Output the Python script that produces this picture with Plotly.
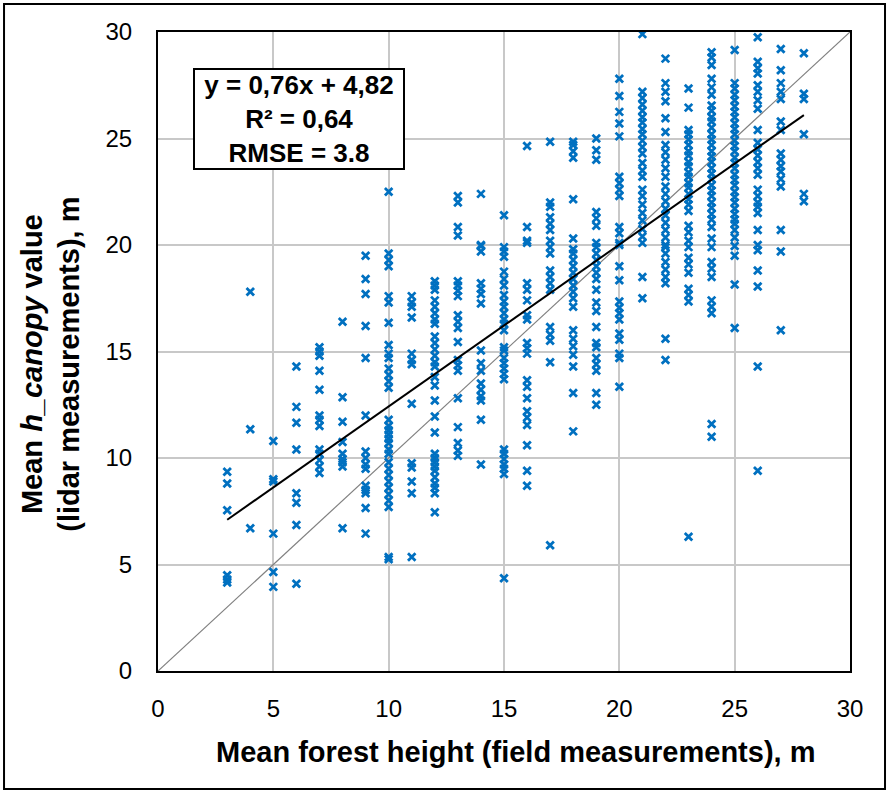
import plotly.graph_objects as go

# Field heights (x) and lidar mean h_canopy values (y) per field-height column
field_x = [3, 4, 5, 6, 7, 8, 9, 10, 11, 12, 13, 14, 15, 16, 17, 18, 19, 20, 21, 22, 23, 24, 25, 26, 27, 28]

h03 = [9.35, 8.8, 7.55, 4.5, 4.3, 4.15]
h04 = [17.8, 11.35, 6.7]
h05 = [10.8, 9.0, 8.9, 6.45, 4.65, 3.95]
h06 = [14.3, 12.4, 11.65, 10.4, 8.35, 7.9, 6.85, 4.1]
h07 = [15.2, 15.0, 14.8, 14.1, 13.2, 12.0, 11.8, 11.5, 10.4, 10.2, 9.9, 9.6, 9.3]
h08 = [16.4, 12.85, 11.7, 10.75, 10.2, 9.95, 9.8, 9.6, 6.7]
h09 = [19.5, 18.4, 17.7, 16.2, 14.7, 12.0, 10.3, 10.0, 9.7, 9.5, 8.7, 8.5, 8.35, 7.65, 6.45]
h10 = [22.5, 19.6, 19.3, 19.0, 17.6, 17.3, 16.35, 15.3, 14.9, 14.7, 14.2, 13.9, 13.6, 13.3,
       11.8, 11.5, 11.3, 11.1, 10.9, 10.7, 10.4, 10.2, 9.8, 9.5, 9.2, 8.9, 8.6, 8.3, 8.0, 7.7, 5.35, 5.25]
h11 = [17.6, 17.3, 17.1, 16.6, 14.9, 14.6, 14.4, 12.55, 9.75, 9.55, 8.9, 8.35, 5.35]
h12 = [18.3, 18.1, 17.9, 17.4, 17.1, 16.8, 16.5, 16.3, 15.7, 15.4, 15.1, 14.8, 14.5, 14.3, 13.8,
       13.4, 12.7, 11.95, 11.2, 10.2, 10.0, 9.8, 9.6, 9.4, 9.1, 8.8, 8.6, 8.35, 7.45]
h13 = [22.3, 22.0, 20.85, 20.45, 18.3, 18.1, 17.85, 17.6, 16.7, 16.4, 16.1, 15.45, 14.6, 14.35,
       14.1, 12.8, 11.45, 10.7, 10.35, 10.1]
h14 = [22.4, 20.0, 19.95, 19.7, 18.2, 17.95, 17.7, 17.25, 15.05, 14.45, 14.1, 13.5, 13.2, 12.9,
       12.7, 11.8, 9.7]
h15 = [21.4, 19.9, 19.7, 19.45, 18.75, 18.4, 18.1, 17.65, 17.35, 17.1, 16.8, 16.5, 16.3, 16.0,
       15.2, 15.05, 14.7, 14.45, 14.2, 13.95, 13.7, 10.4, 10.2, 9.95, 9.7, 9.5, 9.25, 4.35]
h16 = [24.65, 20.85, 20.2, 20.1, 18.2, 17.9, 17.4, 16.7, 16.5, 15.4, 15.15, 14.9, 13.65, 13.35,
       12.8, 12.2, 11.9, 11.55, 10.6, 9.4, 8.7]
h17 = [24.85, 22.0, 21.8, 21.3, 21.0, 20.7, 20.2, 19.9, 19.6, 18.8, 18.5, 18.2, 17.9, 16.15,
       15.8, 15.5, 14.5, 5.9]
h18 = [24.85, 24.7, 24.4, 24.1, 22.15, 20.3, 19.8, 19.6, 19.3, 19.0, 18.7, 18.4, 18.1, 17.8,
       17.5, 17.1, 16.0, 15.6, 15.25, 14.85, 14.3, 13.05, 11.25]
h19 = [25.0, 24.45, 24.0, 21.55, 21.25, 20.9, 20.1, 19.9, 19.6, 19.3, 19.0, 18.7, 18.4, 17.9,
       17.3, 16.9, 16.15, 15.4, 15.2, 14.7, 14.4, 14.1, 13.05, 12.5]
h20 = [27.8, 27.0, 26.25, 25.7, 25.1, 23.2, 22.9, 22.6, 22.3, 20.85, 20.55, 20.1, 20.0, 19.0,
       18.35, 17.35, 17.05, 16.8, 16.5, 15.85, 15.55, 14.9, 14.7, 13.35]
h21 = [29.9, 27.2, 26.9, 26.6, 26.3, 26.0, 25.75, 25.45, 25.2, 24.9, 24.6, 24.3, 23.85, 23.5,
       23.2, 22.6, 22.3, 21.9, 21.5, 21.15, 20.75, 20.4, 20.1, 18.5, 17.5]
h22 = [28.75, 27.6, 27.2, 26.75, 25.95, 25.3, 24.7, 24.35, 24.0, 23.6, 23.2, 22.75, 22.4, 22.05,
       21.7, 21.4, 21.05, 20.7, 20.35, 20.0, 19.9, 19.6, 19.2, 18.85, 18.5, 18.2, 15.6, 14.6]
h23 = [27.35, 26.45, 25.4, 25.2, 24.95, 24.7, 24.4, 24.2, 23.9, 23.7, 23.4, 23.2, 22.9, 22.7,
       22.4, 22.15, 21.9, 21.6, 20.9, 20.6, 20.2, 19.9, 19.4, 19.1, 18.7, 17.95, 17.65, 17.35, 6.3]
h24 = [29.05, 28.8, 28.45, 27.8, 27.4, 27.05, 26.55, 26.3, 26.0, 25.8, 25.5, 25.2, 24.95, 24.7,
       24.4, 24.15, 23.9, 23.6, 23.35, 23.1, 22.8, 22.55, 22.3, 22.0, 21.75, 21.45, 21.2, 20.85,
       20.3, 19.9, 19.2, 18.9, 18.5, 17.4, 17.1, 16.8, 11.6, 11.0]
h25 = [29.15, 27.6, 27.35, 27.05, 26.8, 26.5, 26.25, 26.0, 25.7, 25.45, 25.2, 24.9, 24.65, 24.4,
       24.1, 23.85, 23.6, 23.3, 23.05, 22.8, 22.5, 22.25, 22.0, 21.7, 21.45, 21.2, 21.0, 20.7,
       20.35, 19.95, 19.5, 18.15, 16.1]
h26 = [29.75, 28.6, 28.3, 28.05, 27.5, 27.2, 26.8, 26.4, 25.4, 24.8, 24.5, 24.2, 23.9, 23.6,
       23.3, 22.6, 22.3, 22.0, 21.8, 21.5, 20.7, 20.0, 19.75, 18.8, 18.05, 14.3, 9.4]
h27 = [29.2, 28.2, 27.6, 27.2, 26.85, 25.8, 25.4, 24.3, 24.0, 23.7, 23.45, 23.1, 22.75, 20.7,
       19.7, 16.0]
h28 = [29.0, 27.1, 26.85, 25.2, 22.4, 22.05]

lidar_columns = [h03, h04, h05, h06, h07, h08, h09, h10, h11, h12, h13, h14, h15, h16, h17,
                 h18, h19, h20, h21, h22, h23, h24, h25, h26, h27, h28]

slope, intercept = 0.76, 4.82
axis_ticks = [0, 5, 10, 15, 20, 25, 30]
fit_text = "y = 0,76x + 4,82<br>R² = 0,64<br>RMSE = 3.8"

xs, ys = [], []
for fx, col in zip(field_x, lidar_columns):
    for v in col:
        xs.append(fx)
        ys.append(v)

FONT = "Liberation Sans, Arial, sans-serif"
fig = go.Figure()

fig.add_trace(go.Scatter(x=[0, 30], y=[0, 30], mode="lines",
                         line=dict(color="#808080", width=1.2), hoverinfo="skip"))
fig.add_trace(go.Scatter(x=xs, y=ys, mode="markers",
                         marker=dict(symbol="x-thin", size=7.5, color="#0070C0",
                                     line=dict(color="#0070C0", width=2.8))))
fx0, fx1 = min(field_x), max(field_x)
fig.add_trace(go.Scatter(x=[fx0, fx1], y=[slope * fx0 + intercept, slope * fx1 + intercept],
                         mode="lines", line=dict(color="black", width=2), hoverinfo="skip"))

axis_common = dict(range=[0, 30], tickvals=axis_ticks, showgrid=True, gridcolor="#C8C8C8",
                   gridwidth=1.5, zeroline=False, showline=True, linecolor="black",
                   linewidth=2, mirror=True, ticks="outside", tickcolor="rgba(0,0,0,0)",
                   tickfont=dict(family=FONT, size=24, color="black"), fixedrange=True)
fig.update_xaxes(**axis_common, ticklen=15)
fig.update_yaxes(**axis_common, ticklen=19)

fig.update_layout(
    width=888, height=792, showlegend=False,
    margin=dict(l=158, r=38, t=32, b=121),
    paper_bgcolor="white", plot_bgcolor="white",
    font=dict(family=FONT, color="black"),
    shapes=[dict(type="rect", xref="paper", yref="paper",
                 x0=-0.2225, x1=1.0506, y0=-0.1847, y1=1.0438,
                 line=dict(color="black", width=2), layer="below")],
    annotations=[
        dict(text=fit_text, xref="paper", yref="paper", x=0.2038, y=0.8646,
             xanchor="center", yanchor="middle", showarrow=False, align="center",
             font=dict(family=FONT, size=26, color="black", weight="bold"),
             bordercolor="black", borderwidth=2, bgcolor="white", borderpad=1,
             width=206, height=96),
        dict(text="Mean forest height (field measurements), m", xref="paper", yref="paper",
             x=0.516, y=-0.1268, xanchor="center", yanchor="middle", showarrow=False,
             font=dict(family=FONT, size=29, color="black", weight="bold")),
        dict(text="Mean <i>h_canopy</i> value<br>(lidar measurements), m", xref="paper",
             yref="paper", x=-0.155, y=0.4804, xanchor="center", yanchor="middle",
             showarrow=False, textangle=-90,
             font=dict(family=FONT, size=29, color="black", weight="bold")),
    ],
)

fig.write_html("out.html")
